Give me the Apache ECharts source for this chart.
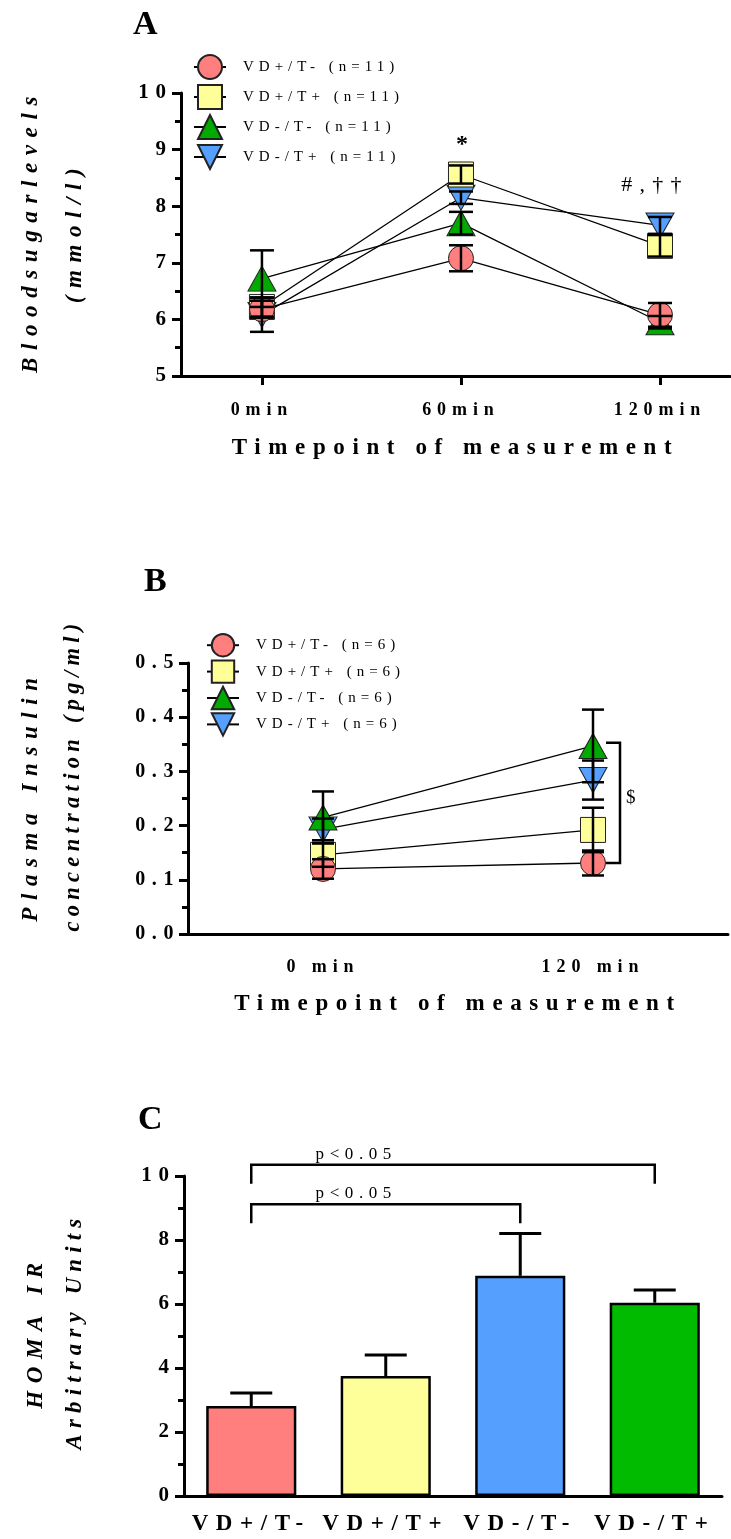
<!DOCTYPE html>
<html><head><meta charset="utf-8">
<script src="https://cdn.jsdelivr.net/npm/echarts@6/dist/echarts.min.js"></script>
<style>html,body{margin:0;padding:0;background:#fff}#c{width:731px;height:1539px}</style>
</head><body><div id="c"></div>
<script>
// ---------- Panel A: blood sugar ----------
const timeA = [0, 60, 120];
const timeLabelsA = ['0min', '60min', '120min'];
const groupsA = ['VD+/T- (n=11)', 'VD+/T+ (n=11)', 'VD-/T- (n=11)', 'VD-/T+ (n=11)'];
const sugarRed = [6.18, 7.08, 6.08];
const sugarYellow = [6.22, 8.56, 7.30];
const sugarGreen = [6.72, 7.70, 5.95];
const sugarBlue = [6.08, 8.15, 7.66];
const sugarErrRed = [0.15, 0.23, 0.21];
const sugarErrYellow = [0.17, 0.16, 0.19];
const sugarErrGreen = [0.50, 0.20, 0.11];
const sugarErrBlue = [0.30, 0.11, 0.15];

// ---------- Panel B: plasma insulin ----------
const timeLabelsB = ['0 min', '120 min'];
const groupsB = ['VD+/T- (n=6)', 'VD+/T+ (n=6)', 'VD-/T- (n=6)', 'VD-/T+ (n=6)'];
const insRed = [0.120, 0.131];
const insYellow = [0.146, 0.192];
const insGreen = [0.215, 0.347];
const insBlue = [0.193, 0.284];
const insErrRed = [0.018, 0.023];
const insErrYellow = [0.022, 0.041];
const insErrGreen = [0.048, 0.067];
const insErrBlue = [0.020, 0.036];
const bracketB = [0.131, 0.353];

// ---------- Panel C: HOMA IR ----------
const homaLabels = ['VD+/T-', 'VD+/T+', 'VD-/T-', 'VD-/T+'];
const homaMeans = [2.81, 3.75, 6.88, 6.04];
const homaErr = [0.41, 0.66, 1.32, 0.40];
const sigFrom = [0, 0];
const sigTo = [3, 2];
const sigLevel = [10.35, 9.12];
const sigText = ['p<0.05', 'p<0.05'];

const markerColors = ['#FF7F7F', '#FFFF99', '#00AA00', '#55A0FF'];
const barColors = ['#FF7F7F', '#FFFF99', '#55A0FF', '#00BB00'];
const symbols = ['circle', 'rect', 'triangle', 'path://M0,0L20,0L10,17.3Z'];

const FF = 'Liberation Serif';

// the reference typesetting is letter-spaced; emulate with canvas letterSpacing
const SPACING_EM = 0.33;
const SPACING_PX = { '22.5': 5.3, '22.8': 6.2 };
(function () {
  const proto = CanvasRenderingContext2D.prototype;
  if (!('letterSpacing' in proto)) return;
  const orig = proto.fillText;
  proto.fillText = function (t, x, y, w) {
    const m = /(\d+(?:\.\d+)?)px/.exec(this.font);
    const fs = m ? parseFloat(m[1]) : 12;
    const sp = SPACING_PX[String(fs)] != null ? SPACING_PX[String(fs)] : fs * SPACING_EM;
    this.letterSpacing = sp.toFixed(1) + 'px';
    return w === undefined ? orig.call(this, t, x, y) : orig.call(this, t, x, y, w);
  };
})();

function errorBars(halfCap, width, upOnly) {
  return function (params, api) {
    const x = api.value(0), m = api.value(1), e = api.value(2);
    const pTop = api.coord([x, m + e]);
    const pMid = api.coord([x, m]);
    const pBot = upOnly ? pMid : api.coord([x, m - e]);
    const st = { stroke: '#000', lineWidth: width };
    const ch = [
      { type: 'line', shape: { x1: pTop[0], y1: pTop[1], x2: pBot[0], y2: pBot[1] }, style: st },
      { type: 'line', shape: { x1: pTop[0] - halfCap, y1: pTop[1], x2: pTop[0] + halfCap, y2: pTop[1] }, style: st }
    ];
    if (!upOnly) ch.push({ type: 'line', shape: { x1: pBot[0] - halfCap, y1: pBot[1], x2: pBot[0] + halfCap, y2: pBot[1] }, style: st });
    return { type: 'group', children: ch };
  };
}

const valsA = [sugarRed, sugarYellow, sugarGreen, sugarBlue];
const errsA = [sugarErrRed, sugarErrYellow, sugarErrGreen, sugarErrBlue];
const valsB = [insRed, insYellow, insGreen, insBlue];
const errsB = [insErrRed, insErrYellow, insErrGreen, insErrBlue];

const axisLineStyle = { onZero: false, lineStyle: { color: '#000', width: 3 } };
const tickLine = { color: '#000', width: 3 };

const series = [];
for (let g = 3; g >= 0; g--) {
  series.push({
    name: groupsA[g], type: 'line', xAxisIndex: 0, yAxisIndex: 0,
    data: timeA.map((t, i) => [t, valsA[g][i]]),
    symbol: symbols[g], symbolSize: g >= 2 ? [28, 25] : 25,
    lineStyle: { color: '#000', width: 1.3 },
    itemStyle: { color: markerColors[g], borderColor: '#222', borderWidth: 1 },
    z: 3, silent: true
  });
}
const errDataA = [];
for (let g = 0; g < 4; g++) timeA.forEach((t, i) => errDataA.push([t, valsA[g][i], errsA[g][i]]));
series.push({ type: 'custom', xAxisIndex: 0, yAxisIndex: 0, data: errDataA, renderItem: errorBars(12, 2.5, false), z: 5, silent: true });

for (let g = 3; g >= 0; g--) {
  series.push({
    name: groupsB[g], type: 'line', xAxisIndex: 1, yAxisIndex: 1,
    data: valsB[g],
    symbol: symbols[g], symbolSize: g >= 2 ? [28, 25] : 25,
    lineStyle: { color: '#000', width: 1.3 },
    itemStyle: { color: markerColors[g], borderColor: '#222', borderWidth: 1 },
    z: 3, silent: true
  });
}
const errDataB = [];
for (let g = 0; g < 4; g++) timeLabelsB.forEach((t, i) => errDataB.push([i, valsB[g][i], errsB[g][i]]));
series.push({ type: 'custom', xAxisIndex: 1, yAxisIndex: 1, data: errDataB, renderItem: errorBars(11, 2.5, false), z: 5, silent: true });
series.push({
  type: 'custom', xAxisIndex: 1, yAxisIndex: 1, data: [[1, bracketB[0], bracketB[1]]], z: 6, silent: true,
  renderItem: function (params, api) {
    const lo = api.coord([api.value(0), api.value(1)]);
    const hi = api.coord([api.value(0), api.value(2)]);
    const xv = lo[0] + 27, xs = lo[0] + 13;
    return { type: 'polyline', shape: { points: [[xs, hi[1]], [xv, hi[1]], [xv, lo[1]], [xs, lo[1]]] }, style: { stroke: '#000', lineWidth: 2.5, fill: null } };
  }
});

series.push({
  type: 'bar', xAxisIndex: 2, yAxisIndex: 2, barWidth: '67%', silent: true,
  data: homaMeans.map((v, i) => ({ value: v, itemStyle: { color: barColors[i] } })),
  itemStyle: { borderColor: '#000', borderWidth: 2.5 }
});
series.push({ type: 'custom', xAxisIndex: 2, yAxisIndex: 2, data: homaMeans.map((v, i) => [i, v, homaErr[i]]), renderItem: errorBars(21, 3, true), z: 1, silent: true });
series.push({
  type: 'custom', xAxisIndex: 2, yAxisIndex: 2, z: 6, silent: true, clip: false,
  data: sigFrom.map((f, i) => [f, sigTo[i], sigLevel[i]]),
  renderItem: function (params, api) {
    const a = api.coord([api.value(0), api.value(2)]);
    const b = api.coord([api.value(1), api.value(2)]);
    return {
      type: 'group', children: [
        { type: 'polyline', shape: { points: [[a[0], a[1] + 19], [a[0], a[1]], [b[0], b[1]], [b[0], b[1] + 19]] }, style: { stroke: '#000', lineWidth: 2.5, fill: null } },
        { type: 'text', style: { x: a[0] + 105, y: a[1] - 2, text: sigText[params.dataIndex], font: '17px ' + FF, fill: '#000', align: 'center', verticalAlign: 'bottom' } }
      ]
    };
  }
});

function txt(text, x, y, font, rot) {
  return { type: 'text', x: x, y: y, rotation: rot || 0, silent: true,
    style: { text: text, font: font, fill: '#000', textAlign: 'center', textVerticalAlign: 'middle' } };
}
const titleFont = 'italic bold 23px ' + FF;
const nameStyle = { color: '#000', fontFamily: FF, fontWeight: 'bold', fontSize: 23 };
function yAxisCfg(grid, min, max, interval, fs, fmt) {
  return {
    gridIndex: grid, type: 'value', min: min, max: max, interval: interval, splitLine: { show: false },
    axisLine: { show: true, onZero: false, lineStyle: { color: '#000', width: 3 } },
    axisTick: { show: true, length: 9, lineStyle: tickLine },
    minorTick: { show: true, splitNumber: 2, length: 6, lineStyle: tickLine },
    axisLabel: { margin: 8, color: '#000', fontFamily: FF, fontWeight: 'bold', fontSize: fs, formatter: fmt }
  };
}

const option = {
  animation: false,
  backgroundColor: '#fff',
  grid: [
    { left: 181, right: 1, top: 93, height: 283, outerBoundsMode: 'none' },
    { left: 188, right: 3, top: 663, height: 271, outerBoundsMode: 'none' },
    { left: 184, right: 9, top: 1176, height: 320, outerBoundsMode: 'none' }
  ],
  xAxis: [
    {
      gridIndex: 0, type: 'value', min: -24.4, max: 141.1, splitLine: { show: false },
      axisLine: axisLineStyle, axisTick: { customValues: timeA, length: 9, lineStyle: tickLine },
      axisLabel: { customValues: timeA, formatter: v => timeLabelsA[timeA.indexOf(v)], margin: 25, color: '#000', fontFamily: FF, fontWeight: 'bold', fontSize: 18 },
      name: 'Timepoint of measurement', nameLocation: 'middle', nameGap: 61, nameTextStyle: nameStyle
    },
    {
      gridIndex: 1, type: 'category', data: timeLabelsB, boundaryGap: true,
      axisLine: axisLineStyle, axisTick: { alignWithLabel: true, length: 9, lineStyle: tickLine },
      axisLabel: { margin: 24, color: '#000', fontFamily: FF, fontWeight: 'bold', fontSize: 18 },
      name: 'Timepoint of measurement', nameLocation: 'middle', nameGap: 59, nameTextStyle: nameStyle
    },
    {
      gridIndex: 2, type: 'category', data: homaLabels, boundaryGap: true,
      axisLine: axisLineStyle, axisTick: { alignWithLabel: true, length: 9, lineStyle: tickLine },
      axisLabel: { margin: 17, color: '#000', fontFamily: FF, fontWeight: 'bold', fontSize: 23, interval: 0 }
    }
  ],
  yAxis: [
    yAxisCfg(0, 5, 10, 1, 21),
    yAxisCfg(1, 0, 0.5, 0.1, 20, v => v.toFixed(1)),
    yAxisCfg(2, 0, 10, 2, 21)
  ],
  legend: [
    {
      data: groupsA, orient: 'vertical', left: 193, top: 54, padding: 0, itemWidth: 32, itemHeight: 30, itemGap: 4,
      selectedMode: false, textStyle: { color: '#000', fontFamily: FF, fontSize: 15, padding: [0, 0, 0, 12] }
    },
    {
      data: groupsB, orient: 'vertical', left: 206, top: 633, padding: 0, itemWidth: 32, itemHeight: 28, itemGap: 2,
      selectedMode: false, textStyle: { color: '#000', fontFamily: FF, fontSize: 15, padding: [0, 0, 0, 12] }
    }
  ],
  graphic: [
    txt('A', 151, 25, 'bold 34px ' + FF),
    txt('B', 161, 582, 'bold 34px ' + FF),
    txt('C', 156, 1120, 'bold 34px ' + FF),
    txt('Bloodsugarlevels', 31, 231, titleFont, Math.PI / 2),
    txt('(mmol/l)', 75, 232, titleFont, Math.PI / 2),
    txt('Plasma Insulin', 31, 796, titleFont, Math.PI / 2),
    txt('concentration (pg/ml)', 73, 775, 'italic bold 22.5px ' + FF, Math.PI / 2),
    txt('HOMA IR', 36, 1332, titleFont, Math.PI / 2),
    txt('Arbitrary Units', 75, 1331, 'italic bold 22.8px ' + FF, Math.PI / 2),
    txt('*', 466, 145, 'bold 24px ' + FF),
    txt('#,††', 655, 185, '22px ' + FF),
    txt('$', 634, 798, '19px ' + FF)
  ],
  series: series
};
const chart = echarts.init(document.getElementById('c'), null, { renderer: 'canvas' });
chart.setOption(option);
</script></body></html>
